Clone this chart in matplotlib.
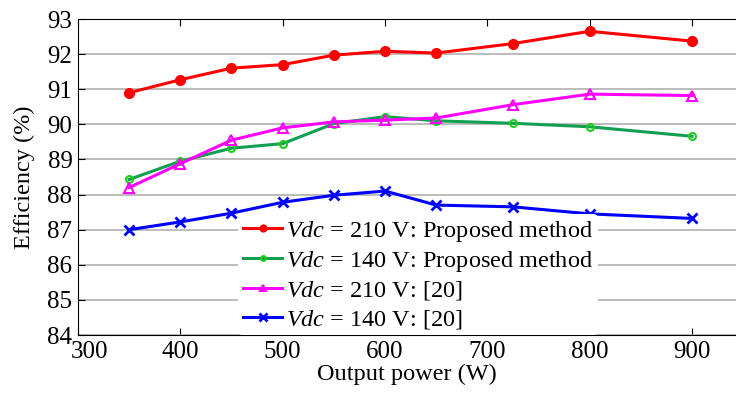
import matplotlib
matplotlib.use('Agg')
import matplotlib.pyplot as plt
import matplotlib.transforms as mtransforms

plt.rcParams['font.family'] = ['Liberation Serif', 'DejaVu Serif']
plt.rcParams['mathtext.fontset'] = 'custom'
plt.rcParams['mathtext.rm'] = 'Liberation Serif'
plt.rcParams['mathtext.it'] = 'Liberation Serif:italic'

# output power (W)
power = [350, 400, 450, 500, 550, 600, 650, 725, 800, 900]

# efficiency (%)
eff_210_prop = [90.9, 91.27, 91.6, 91.7, 91.97, 92.08, 92.03, 92.3, 92.65, 92.37]
eff_140_prop = [88.43, 88.95, 89.32, 89.45, 90.02, 90.22, 90.1, 90.03, 89.93, 89.66]
eff_210_ref = [88.2, 88.88, 89.55, 89.9, 90.07, 90.12, 90.18, 90.56, 90.86, 90.82]
eff_140_ref = [87.0, 87.22, 87.47, 87.78, 87.98, 88.1, 87.7, 87.65, 87.45, 87.32]

labels = ['$Vdc$ = 210 V: Proposed method',
          '$Vdc$ = 140 V: Proposed method',
          '$Vdc$ = 210 V: [20]',
          '$Vdc$ = 140 V: [20]']

fig = plt.figure(figsize=(7.36, 3.93), dpi=100)
ax = fig.add_axes([78 / 736, 1 - 335 / 393, 1 - 78 / 736, (335 - 19) / 393])

ax.plot(power, eff_210_prop, color='#ff0000', lw=2.2, marker='o', ms=7,
        label=labels[0])
ax.plot(power, eff_140_prop, color='#10a050', lw=2.2, marker='o', ms=5,
        mfc='none', mec='#20cc20', mew=1.5, label=labels[1])
ax.plot(power, eff_210_ref, color='#ff00ff', lw=2.2, marker='^', ms=7,
        mfc='none', mew=1.5, label=labels[2])
ax.plot(power, eff_140_ref, color='#0000ff', lw=2.2, marker='x', ms=7.5,
        mew=2, label=labels[3])

ax.set_xlim(300, 943)
ax.set_ylim(84, 93)
ax.set_xticks([300, 400, 500, 600, 700, 800, 900])
ax.set_yticks(range(84, 94))
ax.yaxis.grid(True, color='#b0b0b0', lw=1.2)
ax.set_axisbelow(True)
ax.spines['right'].set_visible(False)
ax.tick_params(direction='in', top=True, labelsize=18, length=5, pad=4)

# first x label sits a little to the right, as in the original
first = ax.get_xticklabels()[0]
first.set_transform(first.get_transform() +
                    mtransforms.ScaledTranslation(12 / 100, 0, fig.dpi_scale_trans))

ax.set_xlabel('Output power (W)', fontsize=17.5, labelpad=1)
ax.set_ylabel('Efficiency (%)', fontsize=17.5, labelpad=9)

leg = ax.legend(loc='lower left', bbox_to_anchor=(0.225, -0.04), frameon=True,
                fontsize=17.5, handlelength=1.6, handletextpad=0.15,
                labelspacing=0.22, borderpad=0.2, markerscale=0.7)
leg.get_frame().set_edgecolor('none')
leg.get_frame().set_facecolor('white')
leg.get_frame().set_alpha(1)

fig.savefig('out.png', dpi=100)
